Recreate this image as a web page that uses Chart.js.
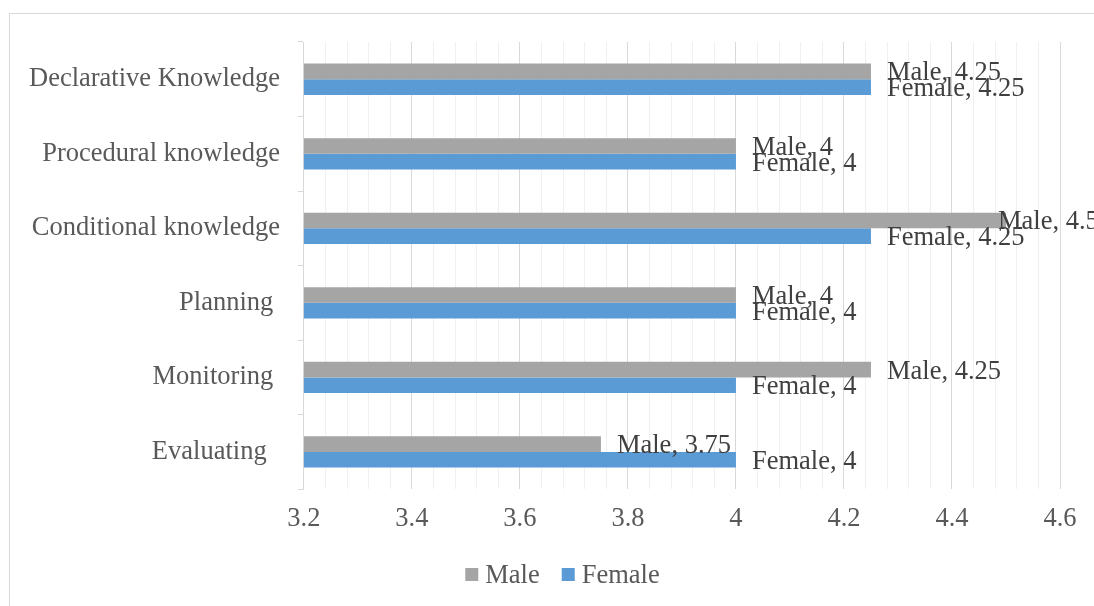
<!DOCTYPE html>
<html>
<head>
<meta charset="utf-8">
<style>
  html, body { margin: 0; padding: 0; background: #fff; overflow: hidden; }
  #wrap { position: relative; width: 1094px; height: 606px; }
</style>
<script src="https://cdn.jsdelivr.net/npm/chart.js@4/dist/chart.umd.min.js"></script>
</head>
<body>
<div id="wrap"><canvas id="chart" width="1094" height="606"></canvas></div>
<script>
const categories = [
  'Declarative Knowledge',
  'Procedural knowledge',
  'Conditional knowledge',
  'Planning ',
  'Monitoring ',
  'Evaluating  '
];
const maleValues = [4.25, 4, 4.5, 4, 4.25, 3.75];
const femaleValues = [4.25, 4, 4.25, 4, 4, 4];
const seriesNames = ['Male', 'Female'];
const seriesColors = ['#A5A5A5', '#5B9BD5'];

const FONT = "'Liberation Serif', 'Times New Roman', serif";
Chart.defaults.font.family = FONT;
Chart.defaults.font.size = 26.5;
Chart.defaults.color = '#595959';

const isMajor = v => Math.abs(Math.round(v * 100) % 20) === 0;

// chart frame (cut off at right and bottom like the source image)
const framePlugin = {
  id: 'frame',
  beforeDraw(chart) {
    const c = chart.ctx;
    c.save();
    c.strokeStyle = '#d9d9d9';
    c.lineWidth = 1;
    c.strokeRect(9.5, 13.5, chart.width + 20, chart.height + 20);
    c.restore();
  }
};

// "Series, value" labels at the bar ends
const labelPlugin = {
  id: 'barLabels',
  afterDatasetsDraw(chart) {
    const c = chart.ctx;
    const right = chart.chartArea.right;
    c.save();
    c.font = '26.5px ' + FONT;
    c.fillStyle = '#404040';
    c.textAlign = 'left';
    c.textBaseline = 'middle';
    chart.data.datasets.forEach((ds, i) => {
      chart.getDatasetMeta(i).data.forEach((bar, j) => {
        const x = Math.min(bar.x + 16, right - 62);
        c.fillText(ds.label + ', ' + ds.data[j], x, bar.y + 2);
      });
    });
    c.restore();
  }
};

// legend drawn below the plot
const legendPlugin = {
  id: 'bottomLegend',
  afterDraw(chart) {
    const c = chart.ctx;
    c.save();
    c.font = '26.5px ' + FONT;
    c.textBaseline = 'middle';
    c.textAlign = 'left';
    const box = 13, gap = 7, between = 22;
    const widths = seriesNames.map(n => c.measureText(n).width);
    const total = widths.reduce((a, w) => a + box + gap + w, 0) + between;
    let x = 562.5 - total / 2;
    const y = 575;
    seriesNames.forEach((n, i) => {
      c.fillStyle = seriesColors[i];
      c.fillRect(x, y - 7, box, box);
      c.fillStyle = '#595959';
      c.fillText(n, x + box + gap, y + 1);
      x += box + gap + widths[i] + between;
    });
    c.restore();
  }
};

new Chart(document.getElementById('chart'), {
  type: 'bar',
  data: {
    labels: categories,
    datasets: [
      { label: seriesNames[0], data: maleValues, backgroundColor: seriesColors[0] },
      { label: seriesNames[1], data: femaleValues, backgroundColor: seriesColors[1] }
    ]
  },
  options: {
    indexAxis: 'y',
    responsive: false,
    animation: false,
    categoryPercentage: 0.42,
    barPercentage: 1,
    layout: { padding: { left: 11, right: 34, top: 42, bottom: 57 } },
    plugins: {
      legend: { display: false },
      tooltip: { enabled: false }
    },
    scales: {
      x: {
        min: 3.2,
        max: 4.6,
        border: { display: false },
        grid: {
          drawTicks: false,
          color: ctx => isMajor(ctx.tick.value) ? '#d9d9d9' : '#f0f0f0'
        },
        ticks: {
          stepSize: 0.04,
          autoSkip: false,
          maxRotation: 0,
          padding: 14,
          callback: v => isMajor(v) ? String(Math.round(v * 10) / 10) : ''
        }
      },
      y: {
        border: { color: '#d9d9d9' },
        grid: {
          offset: true,
          drawOnChartArea: false,
          drawTicks: true,
          tickLength: 6,
          color: '#d9d9d9'
        },
        ticks: { padding: 18, autoSkip: false }
      }
    }
  },
  plugins: [framePlugin, labelPlugin, legendPlugin]
});
</script>
</body>
</html>
